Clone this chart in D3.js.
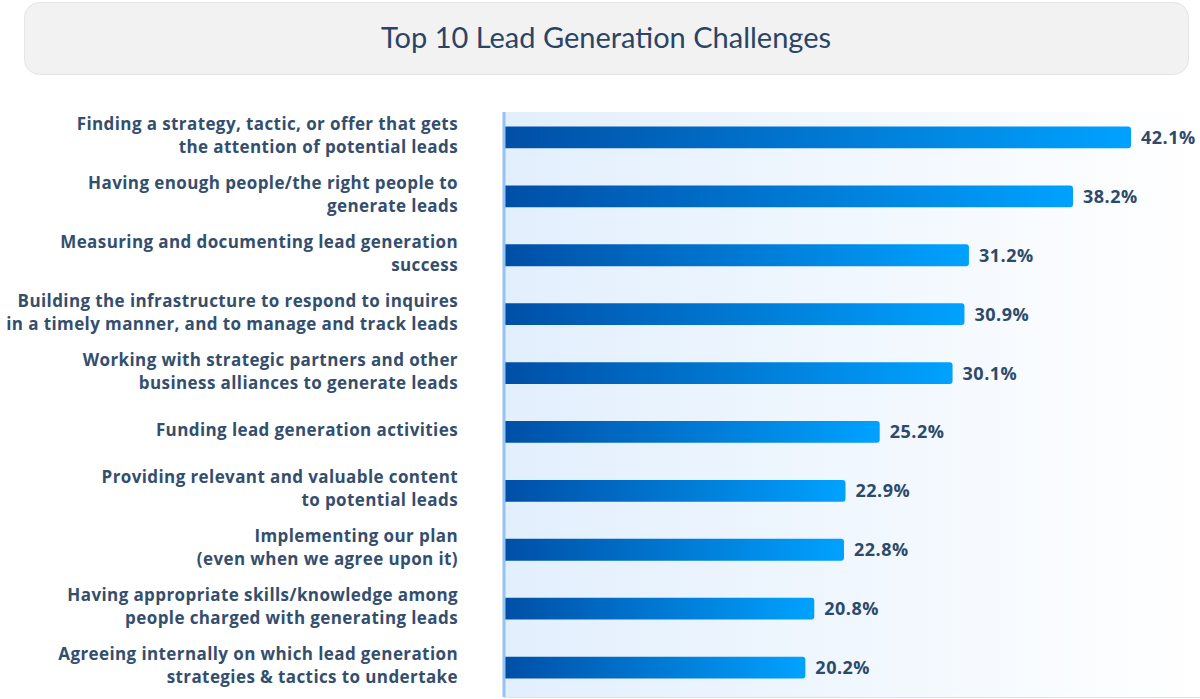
<!DOCTYPE html>
<html>
<head>
<meta charset="utf-8">
<script src="https://cdn.jsdelivr.net/npm/d3@7"></script>
<style>
  html, body { margin: 0; padding: 0; background: #fff; }
  svg { display: block; }
</style>
</head>
<body>
<div id="chart"></div>
<script>
// Chart data
const chartTitle = 'Top 10 Lead Generation Challenges';
const categories = [
    ['Finding a strategy, tactic, or offer that gets', 'the attention of potential leads'],
    ['Having enough people/the right people to', 'generate leads'],
    ['Measuring and documenting lead generation', 'success'],
    ['Building the infrastructure to respond to inquires', 'in a timely manner, and to manage and track leads'],
    ['Working with strategic partners and other', 'business alliances to generate leads'],
    ['Funding lead generation activities'],
    ['Providing relevant and valuable content', 'to potential leads'],
    ['Implementing our plan', '(even when we agree upon it)'],
    ['Having appropriate skills/knowledge among', 'people charged with generating leads'],
    ['Agreeing internally on which lead generation', 'strategies & tactics to undertake']
];
const values = [42.1, 38.2, 31.2, 30.9, 30.1, 25.2, 22.9, 22.8, 20.8, 20.2];

const width = 1200, height = 699;
const plot = { left: 504, right: 1200, top: 112, bottom: 697 };
const labelFont = '"Open Sans", sans-serif';

const svg = d3.select('#chart')
    .append('svg')
    .attr('width', width)
    .attr('height', height);

const defs = svg.append('defs');

const bgGrad = defs.append('linearGradient').attr('id', 'bg-grad');
bgGrad.append('stop').attr('offset', '0%').attr('stop-color', '#e2effd');
bgGrad.append('stop').attr('offset', '100%').attr('stop-color', '#ffffff');

const barGrad = defs.append('linearGradient').attr('id', 'bar-grad');
barGrad.append('stop').attr('offset', '0%').attr('stop-color', '#004fa6');
barGrad.append('stop').attr('offset', '100%').attr('stop-color', '#00a2ff');

// title box
svg.append('rect')
    .attr('x', 24.5).attr('y', 2.5)
    .attr('width', 1164).attr('height', 72)
    .attr('rx', 15)
    .attr('fill', '#f2f2f2')
    .attr('stroke', '#e4e4e4');

svg.append('text')
    .attr('x', 606).attr('y', 48)
    .attr('text-anchor', 'middle')
    .attr('font-family', 'Lato, sans-serif')
    .attr('font-size', 29)
    .attr('fill', '#2b4466')
    .text(chartTitle);

// plot background
svg.append('rect')
    .attr('x', plot.left).attr('y', plot.top)
    .attr('width', plot.right - plot.left).attr('height', plot.bottom - plot.top)
    .attr('fill', 'url(#bg-grad)');

svg.append('line')
    .attr('x1', plot.left).attr('x2', plot.right)
    .attr('y1', plot.bottom + 0.5).attr('y2', plot.bottom + 0.5)
    .attr('stroke', '#dde3ea');

const x = d3.scaleLinear()
    .domain([0, 42.1])
    .range([plot.left + 1, 1131]);

const y = d3.scaleBand()
    .domain(d3.range(categories.length))
    .range([108, 697])
    .paddingInner(0.63)
    .paddingOuter(0.315);

// bars with rounded right end
const barPath = (x0, y0, w, h, r) =>
    `M${x0},${y0}H${x0 + w - r}Q${x0 + w},${y0} ${x0 + w},${y0 + r}` +
    `V${y0 + h - r}Q${x0 + w},${y0 + h} ${x0 + w - r},${y0 + h}H${x0}Z`;

svg.selectAll('.bar')
    .data(values)
    .enter()
    .append('path')
    .attr('class', 'bar')
    .attr('d', (d, i) => barPath(x(0), y(i), x(d) - x(0), y.bandwidth(), 3))
    .attr('fill', 'url(#bar-grad)');

// axis line
svg.append('line')
    .attr('x1', plot.left).attr('x2', plot.left)
    .attr('y1', plot.top).attr('y2', plot.bottom)
    .attr('stroke', '#94c2f6')
    .attr('stroke-width', 3);

// value labels
svg.selectAll('.value-label')
    .data(values)
    .enter()
    .append('text')
    .attr('class', 'value-label')
    .attr('x', d => x(d) + 10)
    .attr('y', (d, i) => y(i) + y.bandwidth() / 2)
    .attr('dy', '0.36em')
    .attr('font-family', labelFont)
    .attr('font-weight', 700)
    .attr('font-size', 18)
    .attr('letter-spacing', 0.5)
    .attr('fill', '#2d4a6b')
    .text(d => d.toFixed(1) + '%');

// category labels
const lineH = 23;
const labels = svg.selectAll('.label')
    .data(categories)
    .enter()
    .append('text')
    .attr('class', 'label')
    .attr('text-anchor', 'end')
    .attr('font-family', labelFont)
    .attr('font-weight', 700)
    .attr('font-size', 17)
    .attr('letter-spacing', 0.4)
    .attr('fill', '#344e6e');

labels.selectAll('tspan')
    .data((d, i) => d.map((t, k) => ({ t, k, n: d.length, i })))
    .enter()
    .append('tspan')
    .attr('x', 458)
    .attr('y', d => y(d.i) + y.bandwidth() / 2 - 2 + (d.k - (d.n - 1) / 2) * lineH)
    .attr('dy', '0.36em')
    .text(d => d.t);
</script>
</body>
</html>
